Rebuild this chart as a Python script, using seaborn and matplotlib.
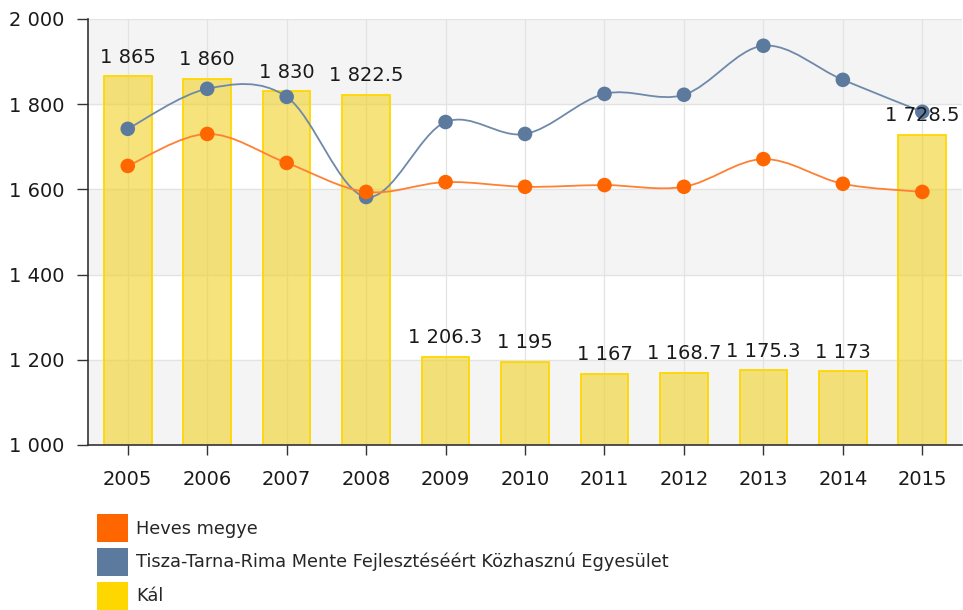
import numpy as np
import pandas as pd
import matplotlib
matplotlib.use("Agg")
import matplotlib.pyplot as plt
from matplotlib.path import Path
from matplotlib.patches import PathPatch, Patch
import seaborn as sns

# ---- data ----
years = ["2005", "2006", "2007", "2008", "2009", "2010",
         "2011", "2012", "2013", "2014", "2015"]
kal = [1865, 1860, 1830, 1822.5, 1206.3, 1195, 1167, 1168.7, 1175.3, 1173, 1728.5]
heves = [1655, 1730, 1662, 1594, 1617, 1606, 1610, 1606, 1671, 1613, 1594]
tisza = [1742, 1836, 1817, 1582, 1758, 1730, 1824, 1822, 1937, 1857, 1782]
names = ["Heves megye",
         "Tisza-Tarna-Rima Mente Fejlesztéséért Közhasznú Egyesület",
         "Kál"]
yticks = [1000, 1200, 1400, 1600, 1800, 2000]

c_orange = "#ff6600"
c_blue = "#5c7a9e"
c_yellow = "#ffd700"


def fmt(v):
    s = f"{v:,.1f}".replace(",", " ")
    return s[:-2] if s.endswith(".0") else s


def spline(ax, xs, ys, color):
    # smooth curve through the points (catmull-rom -> bezier)
    pts = np.column_stack([xs, ys]).astype(float)
    verts = [pts[0]]
    codes = [Path.MOVETO]
    n = len(pts)
    for i in range(n - 1):
        p0 = pts[i - 1] if i > 0 else pts[i]
        p1, p2 = pts[i], pts[i + 1]
        p3 = pts[i + 2] if i + 2 < n else pts[i + 1]
        verts += [p1 + (p2 - p0) / 6, p2 - (p3 - p1) / 6, p2]
        codes += [Path.CURVE4] * 3
    ax.add_patch(PathPatch(Path(verts, codes), fill=False, edgecolor=color,
                           lw=1.3, zorder=3))


df = pd.DataFrame({"year": years, "kal": kal})
pos = np.arange(len(years))

sns.set_style("white")
plt.rcParams["font.family"] = ["DejaVu Sans"]

fig = plt.figure(figsize=(9.63, 6.10), dpi=100)
ax = fig.add_axes([0.0914, 0.2705, 0.9076, 0.6985])

sns.barplot(data=df, x="year", y="kal", ax=ax, width=0.6, saturation=1,
            color=c_yellow, linewidth=1.3, zorder=1)
for bar in ax.containers[0]:
    bar.set_facecolor((0.95, 0.82, 0.14, 0.6))
    bar.set_edgecolor(c_yellow)

# alternating bands
for lo in (1000, 1400, 1800):
    ax.axhspan(lo, lo + 200, color="#f4f4f4", zorder=0)
for y in yticks[1:]:
    ax.axhline(y, color="#e3e3e3", lw=0.9, zorder=0.5)
for p in pos:
    ax.axvline(p, color="#e3e3e3", lw=0.9, zorder=0.5)

for p, v in zip(pos, kal):
    ax.annotate(fmt(v), (p, v), xytext=(0, 7), textcoords="offset points",
                ha="center", va="bottom", fontsize=14, color="#1a1a1a",
                zorder=5)

spline(ax, pos, tisza, "#6f89aa")
spline(ax, pos, heves, "#ff8033")
sns.scatterplot(x=pos, y=tisza, ax=ax, color=c_blue, s=110,
                edgecolor="none", zorder=4)
sns.scatterplot(x=pos, y=heves, ax=ax, color=c_orange, s=110,
                edgecolor="none", zorder=4)

ax.set_ylim(1000, 2000)
ax.set_xlim(-0.5, 10.5)
ax.set_yticks(yticks)
ax.set_yticklabels([fmt(v) for v in yticks])
ax.set_xticks(pos)
ax.set_xticklabels(years)
ax.set_xlabel("")
ax.set_ylabel("")
ax.tick_params(axis="y", length=8, width=1, color="#333333", pad=9,
               labelsize=14, labelcolor="#1a1a1a", left=True)
ax.tick_params(axis="x", length=7, width=1, color="#333333", pad=11,
               labelsize=14, labelcolor="#1a1a1a", bottom=True)
for s in ("top", "right"):
    ax.spines[s].set_visible(False)
for s in ("left", "bottom"):
    ax.spines[s].set_color("#333333")
    ax.spines[s].set_linewidth(1.2)

handles = [Patch(facecolor=c_orange, edgecolor="none"),
           Patch(facecolor=c_blue, edgecolor="none"),
           Patch(facecolor=c_yellow, edgecolor="none")]
fig.legend(handles, names, loc="upper left", bbox_to_anchor=(0.1007, 0.158),
           frameon=False, fontsize=12.8, handlelength=1.75, handleheight=2.1,
           labelspacing=0.3, handletextpad=0.45, borderaxespad=0,
           borderpad=0)

fig.savefig("out.png", dpi=100)
